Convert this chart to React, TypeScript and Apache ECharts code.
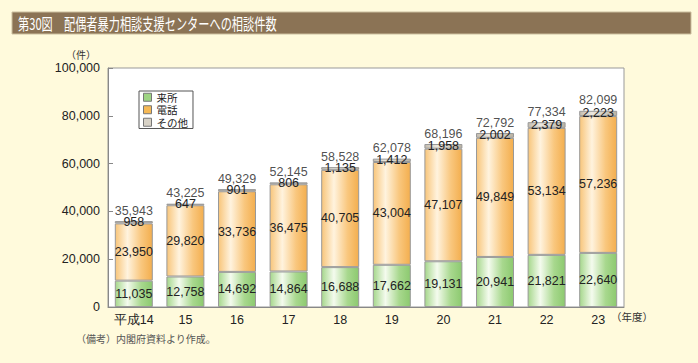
import React, { useEffect, useRef } from "react";
import * as echarts from "echarts";

const categories = ["平成14", "15", "16", "17", "18", "19", "20", "21", "22", "23"];
const visits = [11035, 12758, 14692, 14864, 16688, 17662, 19131, 20941, 21821, 22640];
const phone = [23950, 29820, 33736, 36475, 40705, 43004, 47107, 49849, 53134, 57236];
const other = [958, 647, 901, 806, 1135, 1412, 1958, 2002, 2379, 2223];
const totals = [35943, 43225, 49329, 52145, 58528, 62078, 68196, 72792, 77334, 82099];
const yTicks = [0, 20000, 40000, 60000, 80000, 100000];

const fmt = (v: number) => v.toLocaleString("en-US");

const grad = (stops: [number, string][]) =>
  new echarts.graphic.LinearGradient(
    0, 0, 1, 0,
    stops.map(([offset, color]) => ({ offset, color }))
  );

export default function App() {
  const ref = useRef<HTMLDivElement>(null);
  useEffect(() => {
    if (!ref.current) return;
    const chart = echarts.init(ref.current, null, { renderer: "svg" });
    const green = grad([[0, "#a6d78c"], [0.33, "#f4fbee"], [0.7, "#a8d88e"], [1, "#8cc96f"]]);
    const orange = grad([[0, "#f8c57a"], [0.33, "#fff3de"], [0.7, "#f9c77e"], [1, "#f3ae4e"]]);
    const gray = grad([[0, "#c4bcae"], [0.33, "#ece8e0"], [1, "#bab2a2"]]);
    const font = "Liberation Sans, Arial, sans-serif";
    const jp = "Noto Sans CJK JP, sans-serif";
    const labelStyle = {
      show: true,
      position: "inside" as const,
      color: "#222",
      fontSize: 12.5,
      fontFamily: font,
      formatter: (p: any) => fmt(p.value),
    };
    chart.setOption({
      animation: false,
      backgroundColor: "#fffadc",
      grid: {
        left: 108,
        top: 68,
        right: 74,
        bottom: 56,
        show: true,
        backgroundColor: "#ffffff",
        borderColor: "#999",
        borderWidth: 1,
      },
      legend: {
        left: 139,
        top: 91,
        orient: "vertical",
        itemWidth: 8,
        itemHeight: 8,
        itemGap: 2,
        padding: [1, 5, 1, 4],
        backgroundColor: "#ffffff",
        borderColor: "#555",
        borderWidth: 1,
        borderRadius: 0,
        textStyle: { fontSize: 10.5, color: "#222", fontFamily: jp },
        data: [
          { name: "来所", icon: "rect", itemStyle: { color: "#9ed483", borderColor: "#777", borderWidth: 1 } },
          { name: "電話", icon: "rect", itemStyle: { color: "#f6b955", borderColor: "#777", borderWidth: 1 } },
          { name: "その他", icon: "rect", itemStyle: { color: "#d8d2c6", borderColor: "#777", borderWidth: 1 } },
        ],
      },
      xAxis: {
        type: "category",
        data: categories,
        axisLine: { lineStyle: { color: "#888" } },
        axisTick: { inside: true, length: 5, lineStyle: { color: "#888" } },
        axisLabel: { color: "#222", fontSize: 12.5, fontFamily: font, margin: 6, interval: 0 },
      },
      yAxis: {
        type: "value",
        min: 0,
        max: 100000,
        interval: 20000,
        axisLine: { show: true, lineStyle: { color: "#888" } },
        axisTick: { show: true, inside: true, length: 5, lineStyle: { color: "#888" } },
        splitLine: { show: false },
        axisLabel: {
          color: "#222",
          fontSize: 12.5,
          fontFamily: font,
          margin: 8,
          formatter: (v: number) => (yTicks.includes(v) ? fmt(v) : ""),
        },
      },
      series: [
        {
          name: "来所",
          type: "bar",
          stack: "a",
          barWidth: 38,
          data: visits,
          itemStyle: { color: green, borderColor: "#999", borderWidth: 1 },
          label: labelStyle,
        },
        {
          name: "電話",
          type: "bar",
          stack: "a",
          data: phone,
          itemStyle: { color: orange, borderColor: "#999", borderWidth: 1 },
          label: labelStyle,
        },
        {
          name: "その他",
          type: "bar",
          stack: "a",
          data: other,
          itemStyle: { color: gray, borderColor: "#999", borderWidth: 1 },
          label: labelStyle,
        },
        {
          name: "合計",
          type: "scatter",
          data: totals,
          symbolSize: 0,
          silent: true,
          label: {
            show: true,
            position: "top",
            distance: 4,
            color: "#222",
            fontSize: 12.5,
            fontFamily: font,
            formatter: (p: any) => fmt(p.value),
          },
        },
      ],
      graphic: [
        {
          type: "rect",
          shape: { x: 12, y: 12, width: 679, height: 22 },
          style: { fill: "#8b7355", stroke: "#cbbf9f", lineWidth: 1 },
        },
        {
          type: "text",
          x: 18,
          y: 23,
          scaleX: 0.7,
          style: {
            text: "第30図　配偶者暴力相談支援センターへの相談件数",
            fill: "#ffffff",
            fontSize: 16,
            fontFamily: jp,
            verticalAlign: "middle",
          },
        },
        {
          type: "text",
          x: 66,
          y: 54,
          style: { text: "（件）", fill: "#333", fontSize: 10, fontFamily: jp, verticalAlign: "middle" },
        },
        {
          type: "text",
          x: 611,
          y: 316,
          style: { text: "（年度）", fill: "#333", fontSize: 10.5, fontFamily: jp, verticalAlign: "middle" },
        },
        {
          type: "text",
          x: 76,
          y: 338,
          style: { text: "（備考）内閣府資料より作成。", fill: "#555", fontSize: 10, fontFamily: jp, verticalAlign: "middle" },
        },
      ],
    });
    return () => chart.dispose();
  }, []);
  return (
    <div
      ref={ref}
      style={{ position: "fixed", left: 0, top: 0, width: 698, height: 363 }}
    />
  );
}
